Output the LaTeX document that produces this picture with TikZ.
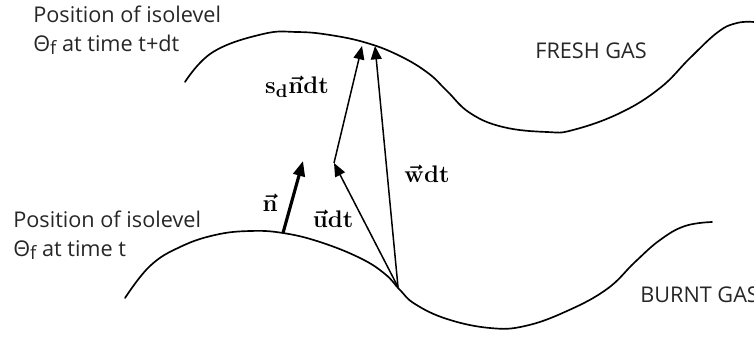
\documentclass[tikz,border=0pt]{standalone}
\usepackage[no-math]{fontspec}
\setmainfont{Open Sans}
\usepackage{amsmath}
\usepackage{tikz}
\usetikzlibrary{positioning,arrows.meta}

\newcommand{\bvec}[1]{\vec{\mathbf{#1}}}

\begin{document}
\begin{tikzpicture}[
  x=0.6pt, y=-0.6pt,
  txt/.style={font=\fontsize{13}{17}\selectfont, align=left, inner sep=0pt, text=black!85},
  sym/.style={font=\fontsize{15}{17}\selectfont\boldmath, inner sep=1pt},
  front/.style={line width=1pt, line cap=round},
  vec/.style={-{Triangle[length=8pt, width=6.5pt]}, line width=0.9pt},
  norm/.style={-{Triangle[length=9pt, width=7pt]}, line width=1.9pt}
]
\useasboundingbox (0,0) rectangle (754,336);
% fronts
\draw[front] plot[smooth, tension=0.7] coordinates {(185,82) (213,52) (263,34) (297,32) (330,35) (367,43) (400,56) (428,73) (447,91) (470,113) (503,127) (547,132) (573,130) (620,113) (660,88) (690,58) (718,32) (737,23) (754,22)};
\draw[front] plot[smooth, tension=0.7] coordinates {(125,298) (150,266) (180,247) (215,235) (250,231) (283,233) (320,242) (360,258) (385,274) (400,290) (415,304) (447,319) (490,328) (525,326) (567,311) (607,289) (635,262) (660,240) (685,226) (712,222)};
% points
\coordinate (base) at (398,287);
\coordinate (mid)  at (334,163);
\coordinate (tipS) at (362,46);
\coordinate (tipW) at (375,46);
\coordinate (foot) at (283,233);
\coordinate (tipN) at (303,161);
% vectors
\draw[vec]  (base) -- (mid);
\draw[vec]  (mid)  -- (tipS);
\draw[vec]  (base) -- (tipW);
\draw[norm] (foot) -- (tipN);
% labels
\node[sym] (sdn) at (297,87)  {$\mathbf{s_d}\bvec{n}\mathbf{dt}$};
\node[sym] (wdt) at (427,174) {$\bvec{w}\mathbf{dt}$};
\node[sym] (nv)  at (270,203) {$\bvec{n}$};
\node[sym] (udt) at (333,219) {$\bvec{u}\mathbf{dt}$};
\node[txt, anchor=north west] (later) at (33,6) {Position of isolevel\\Θ{\fontsize{11}{13}\selectfont\raisebox{-0.3ex}{f}} at time t+dt};
\node[txt, anchor=north west] (now) at (13,211) {Position of isolevel\\Θ{\fontsize{11}{13}\selectfont\raisebox{-0.3ex}{f}} at time t};
\node[txt, anchor=north west] (fresh) at (535,42) {FRESH GAS};
\node[txt, anchor=north west] (burnt) at (640,286) {BURNT GAS};
\end{tikzpicture}
\end{document}
